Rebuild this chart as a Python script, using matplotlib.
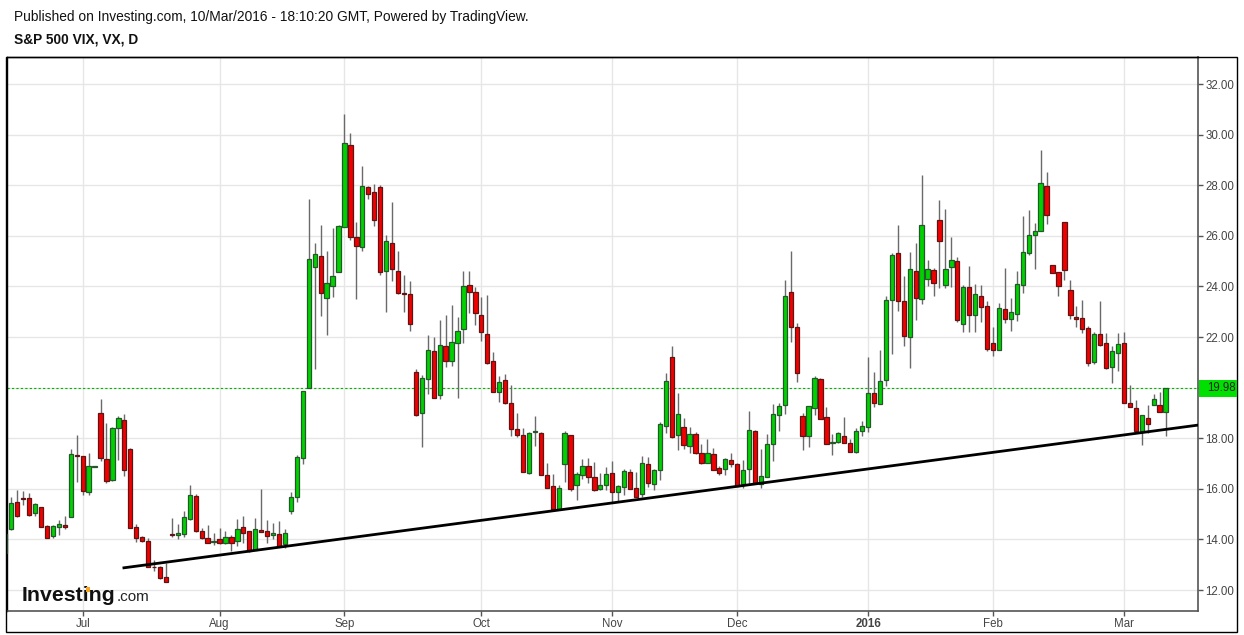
import matplotlib
matplotlib.use("Agg")
import matplotlib.pyplot as plt
from matplotlib.patches import Rectangle

plt.rcParams['font.family'] = ['Liberation Sans', 'DejaVu Sans']

# ---------------- data ----------------
opens = [13.45, 14.40, 15.47, 15.65, 15.63, 15.04, 15.28, 14.54, 14.14, 14.51,
         14.57, 14.88, 17.33, 17.29, 15.87, 16.87, 18.99, 17.17, 16.33, 18.39,
         18.72, 17.57, 14.49, 14.09, 13.93, 12.92, 12.89, 12.50, 14.20, 14.16,
         14.20, 14.82, 15.70, 14.32, 14.04, 13.90, 14.00, 13.84, 14.08, 13.92,
         14.51, 14.32, 13.57, 14.39, 14.32, 14.16, 14.20, 13.80, 15.14, 15.66,
         17.20, 20.00, 24.77, 25.19, 23.56, 24.03, 24.58, 26.34, 29.61, 25.97,
         25.56, 27.93, 27.73, 27.92, 24.61, 25.73, 24.63, 23.75, 23.70, 20.60,
         18.99, 20.33, 21.44, 19.70, 21.66, 21.04, 21.77, 22.33, 24.04, 23.77,
         22.88, 22.12, 21.07, 19.82, 20.31, 19.41, 18.35, 18.13, 16.62, 18.25,
         18.20, 16.53, 16.12, 15.22, 16.97, 18.11, 16.15, 16.54, 16.91, 16.46,
         15.99, 16.15, 16.62, 15.87, 16.07, 16.66, 16.03, 15.79, 16.97, 16.19,
         16.74, 18.49, 21.22, 18.11, 18.45, 17.70, 18.15, 17.41, 17.02, 17.37,
         16.81, 16.78, 17.14, 16.98, 16.20, 16.78, 18.27, 16.21, 16.47, 17.78,
         18.90, 19.33, 23.80, 22.38, 18.88, 18.07, 19.18, 20.35, 18.84, 17.83,
         17.85, 18.10, 17.82, 17.47, 18.30, 18.45, 19.79, 19.37, 20.29, 23.46,
         25.31, 23.43, 22.02, 24.61, 23.50, 24.29, 24.64, 26.64, 24.06, 24.77,
         25.01, 22.50, 23.97, 22.86, 23.64, 23.22, 21.75, 21.47, 23.09, 22.70,
         22.93, 24.04, 25.33, 26.05, 26.21, 27.99, 24.84, 24.57, 26.54, 23.87,
         22.80, 22.75, 22.36, 21.00, 22.12, 21.77, 20.81, 21.36, 21.77, 19.41,
         19.21, 18.30, 18.78, 19.33, 19.33, 19.02]

highs = [14.30, 15.66, 15.96, 15.92, 15.83, 15.43, 15.30, 14.58, 14.58, 14.78,
         14.91, 17.58, 18.13, 17.29, 17.42, 16.90, 19.55, 18.62, 18.43, 18.86,
         18.96, 17.60, 14.59, 14.12, 14.05, 13.17, 12.95, 13.05, 14.83, 14.60,
         15.12, 16.14, 15.79, 14.47, 14.57, 14.26, 14.47, 14.33, 14.16, 14.80,
         14.92, 14.32, 14.83, 16.00, 14.75, 14.63, 14.71, 14.41, 15.86, 17.33,
         19.87, 27.45, 25.73, 26.44, 25.42, 26.30, 26.44, 30.81, 30.07, 26.56,
         28.76, 27.97, 28.04, 28.01, 26.05, 27.32, 25.42, 24.44, 24.20, 20.75,
         20.50, 22.10, 21.99, 22.66, 22.86, 23.28, 22.78, 24.63, 24.63, 23.96,
         23.60, 23.67, 21.40, 20.45, 20.52, 20.10, 18.98, 18.40, 18.23, 18.89,
         18.23, 17.04, 16.57, 16.16, 18.30, 18.11, 16.68, 17.18, 17.23, 17.06,
         16.62, 16.85, 17.09, 16.16, 16.80, 16.79, 16.67, 17.30, 17.26, 16.78,
         18.65, 20.56, 21.66, 19.79, 18.78, 18.45, 18.26, 17.78, 17.97, 17.61,
         16.92, 17.22, 17.42, 17.02, 17.15, 19.07, 18.33, 17.58, 18.17, 19.37,
         19.41, 24.25, 25.40, 22.55, 18.98, 19.27, 20.47, 20.40, 19.22, 18.17,
         18.24, 18.85, 17.96, 18.39, 18.69, 21.21, 20.63, 21.47, 23.63, 25.31,
         26.42, 24.42, 25.37, 25.73, 28.39, 25.05, 24.74, 27.40, 27.08, 25.95,
         25.16, 24.05, 24.80, 24.08, 24.05, 23.42, 22.39, 23.36, 24.74, 23.55,
         24.61, 26.78, 27.04, 26.51, 29.41, 28.53, 24.86, 24.57, 26.56, 24.26,
         23.24, 23.47, 22.45, 22.21, 23.43, 22.16, 21.64, 22.16, 22.21, 20.09,
         19.50, 18.90, 19.31, 19.74, 19.83, 19.98]

lows = [13.40, 14.36, 14.90, 15.37, 14.91, 14.91, 14.49, 14.05, 14.05, 14.16,
        14.41, 14.88, 16.26, 15.74, 15.74, 16.87, 17.08, 16.22, 16.29, 17.14,
        16.49, 14.45, 13.88, 13.88, 12.91, 12.74, 12.45, 12.33, 14.10, 14.00,
        14.10, 14.76, 14.30, 14.00, 13.87, 13.79, 13.82, 13.80, 13.54, 13.75,
        13.87, 13.50, 13.57, 14.28, 13.87, 14.00, 13.75, 13.68, 15.01, 15.49,
        17.00, 20.00, 20.72, 22.84, 22.09, 23.60, 24.58, 26.34, 25.82, 23.50,
        25.40, 27.45, 26.37, 24.44, 23.00, 24.20, 23.70, 23.00, 22.22, 18.86,
        17.64, 19.76, 19.60, 19.57, 20.81, 20.85, 19.60, 21.77, 22.95, 22.46,
        21.86, 20.94, 19.82, 19.45, 19.34, 18.10, 18.03, 16.68, 16.59, 17.68,
        16.53, 16.02, 15.22, 15.18, 16.25, 15.90, 15.54, 16.38, 16.23, 15.92,
        15.94, 15.94, 15.48, 15.53, 15.74, 15.98, 15.67, 15.66, 16.06, 15.94,
        16.36, 18.22, 17.99, 17.54, 17.56, 17.40, 17.37, 16.98, 17.02, 16.75,
        16.54, 16.54, 16.86, 16.10, 16.04, 16.20, 16.20, 16.04, 16.47, 17.08,
        18.29, 18.94, 21.79, 20.22, 17.54, 17.67, 18.92, 18.77, 17.79, 17.32,
        17.80, 17.80, 17.44, 17.40, 18.09, 18.26, 19.24, 19.37, 20.05, 21.34,
        23.04, 21.64, 20.77, 22.67, 23.30, 24.02, 23.63, 23.92, 23.92, 23.98,
        22.58, 22.21, 22.21, 22.21, 22.60, 21.45, 21.25, 21.47, 22.57, 22.24,
        22.63, 23.75, 25.26, 24.67, 26.18, 26.47, 24.52, 23.63, 24.26, 22.71,
        22.41, 22.15, 20.85, 20.92, 21.64, 20.72, 20.18, 20.66, 19.41, 19.24,
        18.30, 17.75, 18.19, 19.33, 19.02, 18.10]

closes = [14.20, 15.43, 14.93, 15.61, 14.96, 15.39, 14.49, 14.05, 14.54, 14.62,
          14.49, 17.37, 17.28, 15.91, 16.89, 16.90, 17.21, 16.30, 18.39, 18.79,
          16.75, 14.45, 14.05, 13.92, 12.91, 12.89, 12.49, 12.33, 14.16, 14.25,
          14.87, 15.74, 14.34, 14.04, 13.87, 13.93, 13.84, 14.08, 13.87, 14.43,
          14.24, 13.53, 14.42, 14.28, 14.14, 14.24, 13.75, 14.24, 15.68, 17.26,
          19.87, 25.10, 25.29, 23.73, 24.14, 24.41, 26.39, 29.69, 25.95, 25.59,
          27.96, 27.67, 26.63, 24.58, 25.80, 24.67, 23.75, 23.70, 22.52, 18.93,
          20.37, 21.47, 19.60, 21.70, 21.07, 21.82, 22.25, 24.00, 23.77, 22.95,
          22.18, 20.98, 19.82, 20.24, 19.40, 18.36, 18.13, 16.68, 18.19, 18.27,
          16.53, 16.04, 15.22, 16.03, 18.19, 15.99, 16.58, 16.91, 16.46, 15.95,
          16.16, 16.58, 15.87, 16.12, 16.70, 15.99, 15.67, 17.01, 16.23, 16.74,
          18.55, 20.28, 18.03, 18.94, 17.73, 18.15, 17.40, 17.02, 17.41, 16.75,
          16.63, 17.18, 16.97, 16.13, 16.75, 18.31, 16.24, 16.50, 17.76, 18.94,
          19.29, 23.62, 22.38, 20.59, 18.07, 19.27, 20.39, 18.77, 17.79, 17.85,
          18.20, 17.80, 17.44, 18.30, 18.49, 19.80, 19.40, 20.26, 23.46, 25.23,
          23.41, 22.03, 24.68, 23.53, 26.42, 24.68, 24.13, 25.79, 24.68, 25.03,
          22.67, 23.97, 22.87, 23.72, 23.20, 21.54, 21.47, 23.13, 22.70, 23.00,
          24.08, 25.37, 26.05, 26.21, 28.07, 26.84, 24.52, 24.00, 24.65, 22.86,
          22.70, 22.32, 20.97, 22.12, 21.70, 20.77, 21.45, 21.73, 19.41, 19.24,
          18.30, 18.90, 18.55, 19.55, 19.04, 19.98]

month_idx = [13, 36, 57, 80, 102, 123, 145, 166, 188]
month_labels = ['Jul', 'Aug', 'Sep', 'Oct', 'Nov', 'Dec', '2016', 'Feb', 'Mar']
price_ticks = [12, 14, 16, 18, 20, 22, 24, 26, 28, 30, 32]
last_price = 19.98
trend_x = [19.7, 200.5]
trend_y = [12.87, 18.52]

# ---------------- figure ----------------
W, H = 1244, 635
fig = plt.figure(figsize=(W / 100, H / 100), dpi=100)
px_l, px_r, px_t, px_b = 7, 1198, 57, 611
ax = fig.add_axes([px_l / W, 1 - px_b / H, (px_r - px_l) / W, (px_b - px_t) / H])

GREEN = '#00d200'
GREEN_EDGE = '#24582a'
RED = '#f20000'
RED_EDGE = '#5e1414'
WICK = '#6a6a6a'

n = len(opens)
xs = list(range(n))
body_w = 0.72
for i in xs:
    o, h, l, c = opens[i], highs[i], lows[i], closes[i]
    up = c >= o
    ax.vlines(i, l, h, color=WICK, lw=1.0, zorder=2)
    bottom = min(o, c)
    height = max(abs(c - o), 0.03)
    ax.bar(i, height, bottom=bottom, width=body_w,
           color=GREEN if up else RED,
           edgecolor=GREEN_EDGE if up else RED_EDGE, lw=0.9, zorder=3)

# trend line
ax.plot(trend_x, trend_y, color='black', lw=2.0, zorder=4, solid_capstyle='butt')

# last price line
ax.axhline(last_price, color='#00b400', lw=0.8, ls=(0, (2, 2)), zorder=1)

ax.set_xlim(0.28, 200.45)
ax.set_ylim(11.17, 33.07)

ax.set_yticks(price_ticks)
ax.set_yticklabels([f'{v:.2f}' for v in price_ticks])
ax.yaxis.tick_right()
ax.set_xticks(month_idx)
ax.set_xticklabels(month_labels)
for lbl in ax.get_xticklabels():
    if lbl.get_text() == '2016':
        lbl.set_fontweight('bold')
ax.tick_params(axis='both', labelsize=8.3, colors='#555555', labelcolor='#444444',
               length=3.5, width=1)
ax.tick_params(axis='y', pad=2)
ax.tick_params(axis='x', pad=1.5)
ax.grid(True, color='#e6e6e6', lw=1, zorder=0)
ax.set_axisbelow(True)

for s in ['top', 'left']:
    ax.spines[s].set_color('black')
    ax.spines[s].set_linewidth(1)
for s in ['right', 'bottom']:
    ax.spines[s].set_color('#555555')
    ax.spines[s].set_linewidth(1.2)

# last price label box on the axis
y_lp = ax.transData.transform((0, last_price))[1] / H
fig.patches.append(Rectangle((1199 / W, y_lp - 8.5 / H), 38 / W, 17 / H,
                             transform=fig.transFigure, fc='#00e000', ec='none', zorder=5))
fig.text(1207 / W, y_lp, f'{last_price:.2f}', fontsize=8.3, color='#222222',
         va='center', ha='left', zorder=6)

# outer border
fig.patches.append(Rectangle((6 / W, 1 - 632 / H), (1237 - 6) / W, (632 - 57) / H,
                             transform=fig.transFigure, fill=False, ec='black', lw=1))

# header text
fig.text(14 / W, 1 - 17 / H,
         'Published on Investing.com, 10/Mar/2016 - 18:10:20 GMT, Powered by TradingView.',
         fontsize=9.95, color='#111111', va='center', ha='left')
fig.text(14 / W, 1 - 40 / H, 'S&P 500 VIX, VX, D', fontsize=9.9, fontweight='bold',
         color='#111111', va='center', ha='left')

# logo
t1 = fig.text(22 / W, 1 - 601 / H, 'Investing', fontsize=15.3, fontweight='bold',
              color='#111111', va='baseline', ha='left')
fig.canvas.draw()
r = fig.canvas.get_renderer()
bb = t1.get_window_extent(r)
fig.text((bb.x1 + 1) / W, 1 - 601 / H, '.com', fontsize=11, color='#222222',
         va='baseline', ha='left')
t_pre = fig.text(22 / W, 1 - 601 / H, 'Invest', fontsize=15.3, fontweight='bold',
                 color='none', va='baseline', ha='left')
bb2 = t_pre.get_window_extent(r)
t_pre.remove()
fig.patches.append(Rectangle(((bb2.x1 + 2.0) / W, (bb.y1 - 6) / H), 4 / W, 5 / H,
                             transform=fig.transFigure, fc='#f5a623', ec='none', zorder=10))

fig.savefig('out.png', dpi=100)
